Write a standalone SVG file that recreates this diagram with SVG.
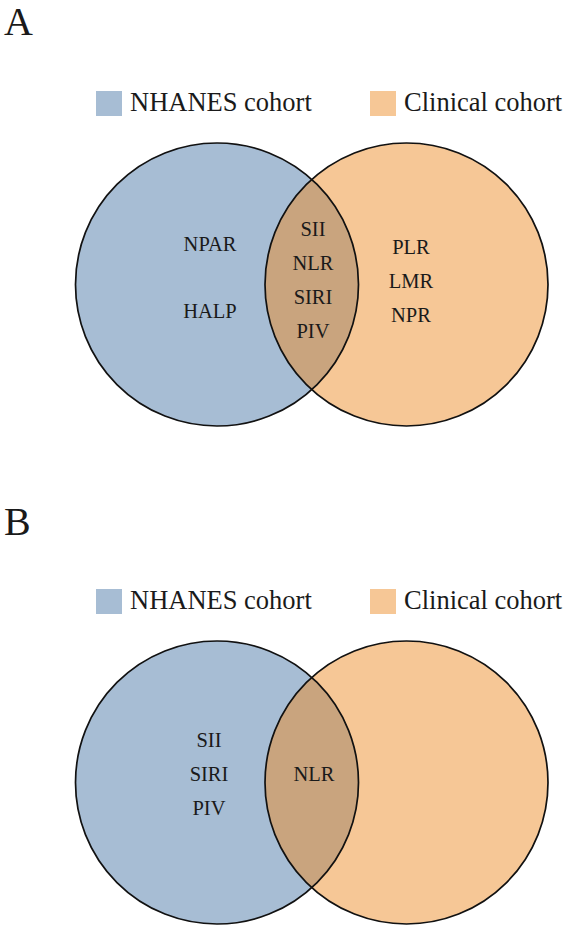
<svg xmlns="http://www.w3.org/2000/svg" width="567" height="930" viewBox="0 0 567 930">
<style>
text{font-family:"Liberation Serif","Times New Roman",serif;fill:#1a1a1a}
.panel{font-size:40px}
.leg{font-size:26.5px}
.lbl{font-size:20.5px;text-anchor:middle}
.blue{fill:#a7bdd4}
.orange{fill:#f6c796}
.lens{fill:#c9a47e}
.ring{fill:none;stroke:#111;stroke-width:1.7}
</style>
<defs>
<g id="venn">
<circle class="blue" cx="217" cy="284.5" r="141.5"/>
<circle class="orange" cx="406.5" cy="284.5" r="141.5"/>
<path class="lens" d="M311.75 179.4 A141.5 141.5 0 0 1 311.75 389.6 A141.5 141.5 0 0 1 311.75 179.4 Z"/>
<circle class="ring" cx="217" cy="284.5" r="141.5"/>
<circle class="ring" cx="406.5" cy="284.5" r="141.5"/>
</g>
<g id="legend">
<rect class="blue" x="96" y="91" width="26" height="25"/>
<text class="leg" x="130" y="110.5">NHANES cohort</text>
<rect class="orange" x="370" y="91" width="26" height="25"/>
<text class="leg" x="404" y="110.5">Clinical cohort</text>
</g>
</defs>
<g id="panelA">
<text class="panel" x="4" y="35">A</text>
<use href="#legend"/>
<use href="#venn"/>
<g id="A-nhanes">
<text class="lbl" x="210" y="251">NPAR</text>
<text class="lbl" x="210" y="318">HALP</text>
</g>
<g id="A-overlap">
<text class="lbl" x="313" y="236">SII</text>
<text class="lbl" x="313" y="270">NLR</text>
<text class="lbl" x="313" y="303.5">SIRI</text>
<text class="lbl" x="313" y="337.5">PIV</text>
</g>
<g id="A-clinical">
<text class="lbl" x="411" y="254">PLR</text>
<text class="lbl" x="411" y="288">LMR</text>
<text class="lbl" x="411" y="321.5">NPR</text>
</g>
</g>
<g id="panelB">
<text class="panel" x="4" y="535">B</text>
<use href="#legend" y="498"/>
<use href="#venn" y="498"/>
<g id="B-nhanes">
<text class="lbl" x="209" y="747">SII</text>
<text class="lbl" x="209" y="781">SIRI</text>
<text class="lbl" x="209" y="814.5">PIV</text>
</g>
<g id="B-overlap">
<text class="lbl" x="314" y="781">NLR</text>
</g>
</g>
</svg>
